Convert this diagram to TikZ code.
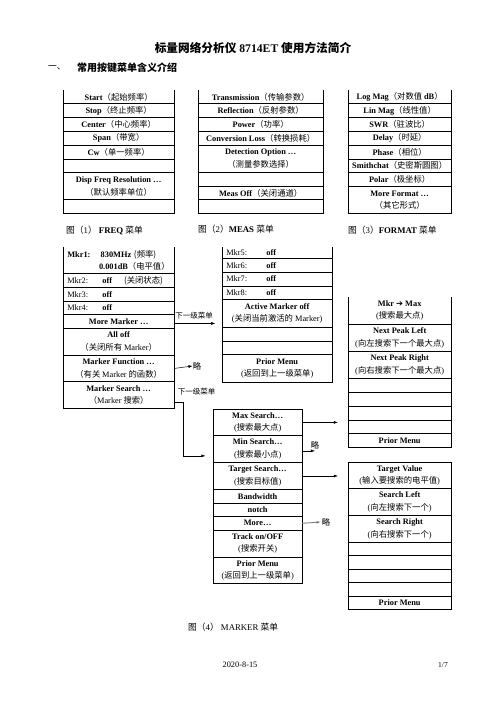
\documentclass[tikz,border=0pt]{standalone}
\usepackage{fontspec}
\setmainfont{Liberation Serif}
\newfontfamily\zhfont{Noto Sans CJK SC}
\newfontfamily\arrowfont{DejaVu Sans}
\newcommand{\zh}[1]{{\zhfont #1}}
\usetikzlibrary{positioning,arrows.meta}

\begin{document}
\begin{tikzpicture}[x=1.2pt,y=-1.2pt,
    cell/.style ={inner sep=0pt, align=center, font=\fontsize{10}{15}\selectfont},
    freqrow/.style={cell, minimum width=133.2pt, minimum height=#1*16.13pt}, freqrow/.default=1,
    measrow/.style={cell, minimum width=150pt, minimum height=#1*16.13pt}, measrow/.default=1,
    fmtrow/.style={cell, minimum width=123.6pt, minimum height=#1*16.13pt}, fmtrow/.default=1,
    mkrrow/.style={cell, minimum width=133.2pt, minimum height=#1*15.9pt}, mkrrow/.default=1,
    mkrbrow/.style={cell, minimum width=132pt, minimum height=#1*16.2pt}, mkrbrow/.default=1,
    peakrow/.style={cell, minimum width=123.6pt, minimum height=#1*16.14pt}, peakrow/.default=1,
    tgtrow/.style={cell, minimum width=123.6pt, minimum height=#1*15.84pt}, tgtrow/.default=1,
    srchrow/.style={cell, minimum width=106.8pt, minimum height=#1*15.88pt}, srchrow/.default=1,
    lft/.style={align=left, text width=#1, inner xsep=5pt},
    note/.style={inner sep=1pt, font=\fontsize{9}{10}\selectfont},
    figcap/.style={inner sep=0pt, anchor=west, font=\fontsize{10.5}{12}\selectfont},
    arr/.style={-{Latex[length=5pt,width=3.5pt]}, line width=0.6pt},
    rule/.style={line width=0.9pt}]
   \useasboundingbox (0,0) rectangle (496,702);

   % heading
   \node[font=\fontsize{14}{16}\selectfont\bfseries] (title) at (253,48) {\zh{标量网络分析仪} 8714ET \zh{使用方法简介}};
   \node[figcap] (sec) at (48,68) {\zh{一、}};
   \node[figcap, font=\fontsize{12}{14}\selectfont\bfseries] (sectxt) at (77,68) {\zh{常用按键菜单含义介绍}};

   % FREQ
   \node[freqrow, anchor=north west] (f1) at (63,90) {\textbf{Start}\zh{（起始频率）}};
   \node[freqrow, below=0pt of f1] (f2) {\textbf{Stop}\zh{（终止频率）}};
   \node[freqrow, below=0pt of f2] (f3) {\textbf{Center}\zh{（中心频率）}};
   \node[freqrow, below=0pt of f3] (f4) {\textbf{Span}\zh{（带宽）}};
   \node[freqrow, below=0pt of f4] (f5) {\textbf{Cw}\zh{（单一频率）}};
   \node[freqrow, below=0pt of f5] (f6) {};
   \node[freqrow=2, below=0pt of f6] (f7) {\textbf{Disp Freq Resolution …}\\\zh{（默认频率单位）}};
   \node[freqrow, below=0pt of f7] (f8) {};
   \node[figcap] (cap1) at (66,230) {\zh{图（}1\zh{）} \textbf{FREQ} \zh{菜单}};

   % MEAS
   \node[measrow, anchor=north west] (m1) at (198,90) {\textbf{Transmission}\zh{（传输参数）}};
   \node[measrow, below=0pt of m1] (m2) {\textbf{Reflection}\zh{（反射参数）}};
   \node[measrow, below=0pt of m2] (m3) {\textbf{Power}\zh{（功率）}};
   \node[measrow, below=0pt of m3] (m4) {\textbf{Conversion Loss}\zh{（转换损耗）}};
   \node[measrow=2, below=0pt of m4] (m5) {\textbf{Detection Option …}\\\zh{（测量参数选择）}};
   \node[measrow, below=0pt of m5] (m6) {};
   \node[measrow, below=0pt of m6] (m7) {\textbf{Meas Off}\zh{（关闭通道）}};
   \node[measrow, below=0pt of m7] (m8) {};
   \node[figcap] (cap2) at (198,229) {\zh{图（}2\zh{）}\textbf{MEAS} \zh{菜单}};

   % FORMAT
   \node[fmtrow, anchor=north west] (g1) at (348,90) {\textbf{Log Mag}\zh{（对数值 }\textbf{dB}\zh{）}};
   \node[fmtrow, below=0pt of g1] (g2) {\textbf{Lin Mag}\zh{（线性值）}};
   \node[fmtrow, below=0pt of g2] (g3) {\textbf{SWR}\zh{（驻波比）}};
   \node[fmtrow, below=0pt of g3] (g4) {\textbf{Delay}\zh{（时延）}};
   \node[fmtrow, below=0pt of g4] (g5) {\textbf{Phase}\zh{（相位）}};
   \node[fmtrow, below=0pt of g5] (g6) {\textbf{Smithchat}\zh{（史密斯圆图）}};
   \node[fmtrow, below=0pt of g6] (g7) {\textbf{Polar}\zh{（极坐标）}};
   \node[fmtrow=2, below=0pt of g7] (g8) {\textbf{More Format …}\\\zh{（其它形式）}};
   \node[figcap] (cap3) at (348,230) {\zh{图（}3\zh{）}\textbf{FORMAT} \zh{菜单}};

   % MARKER
   \node[mkrrow=2, lft=123.2pt, anchor=north west] (a1) at (63,247)
        {\makebox[40pt][l]{\textbf{Mkr1:}}\textbf{830MHz} \zh{(频率)}\\\hspace*{38pt}\textbf{0.001dB}\zh{（电平值）}};
   \node[mkrrow, lft=123.2pt, below=0pt of a1] (a2) {\makebox[42pt][l]{Mkr2:}\makebox[26pt][l]{\textbf{off}}\zh{(关闭状态)}};
   \node[mkrrow, lft=123.2pt, below=0pt of a2] (a3) {\makebox[42pt][l]{Mkr3:}\textbf{off}};
   \node[mkrrow, lft=123.2pt, below=0pt of a3] (a4) {\makebox[42pt][l]{Mkr4:}\textbf{off}};
   \node[mkrrow, below=0pt of a4] (a5) {\textbf{More Marker …}};
   \node[mkrrow=2, below=0pt of a5] (a6) {\textbf{All off}\\\zh{（关闭所有 }Marker\zh{）}};
   \node[mkrrow=2, below=0pt of a6] (a7) {\textbf{Marker Function …}\\\zh{（有关 }Marker\zh{ 的函数）}};
   \node[mkrrow=2, below=0pt of a7] (a8) {\textbf{Marker Search …}\\\zh{（}Marker\zh{ 搜索）}};

   \node[mkrbrow, lft=122pt, minimum height=13.2pt, anchor=north west] (b1) at (222,247) {\makebox[48pt][l]{Mkr5:}\textbf{off}};
   \node[mkrbrow, lft=122pt, below=0pt of b1] (b2) {\makebox[48pt][l]{Mkr6:}\textbf{off}};
   \node[mkrbrow, lft=122pt, below=0pt of b2] (b3) {\makebox[48pt][l]{Mkr7:}\textbf{off}};
   \node[mkrbrow, lft=122pt, below=0pt of b3] (b4) {\makebox[48pt][l]{Mkr8:}\textbf{off}};
   \node[mkrbrow=2, below=0pt of b4] (b5) {\textbf{Active Marker off}\\(\zh{关闭当前激活的} Marker)};
   \node[mkrbrow, below=0pt of b5] (b6) {};
   \node[mkrbrow, below=0pt of b6] (b7) {};
   \node[mkrbrow=2, below=0pt of b7] (b8) {\textbf{Prior Menu}\\(\zh{返回到上一级菜单})};

   \node[peakrow=2, anchor=north west] (p1) at (348,297) {\textbf{Mkr {\arrowfont ➔} Max}\\(\zh{搜索最大点})};
   \node[peakrow=2, below=0pt of p1] (p2) {\textbf{Next Peak Left}\\(\zh{向左搜索下一个最大点})};
   \node[peakrow=2, below=0pt of p2] (p3) {\textbf{Next Peak Right}\\(\zh{向右搜索下一个最大点})};
   \node[peakrow, below=0pt of p3] (p4) {};
   \node[peakrow, below=0pt of p4] (p5) {};
   \node[peakrow, below=0pt of p5] (p6) {};
   \node[peakrow, below=0pt of p6] (p7) {};
   \node[peakrow, below=0pt of p7] (p8) {\textbf{Prior Menu}};

   \node[srchrow=2, anchor=north west] (s1) at (213,409) {\textbf{Max Search…}\\(\zh{搜索最大点})};
   \node[srchrow=2, below=0pt of s1] (s2) {\textbf{Min Search…}\\(\zh{搜索最小点})};
   \node[srchrow=2, below=0pt of s2] (s3) {\textbf{Target Search…}\\(\zh{搜索目标值})};
   \node[srchrow, below=0pt of s3] (s4) {\textbf{Bandwidth}};
   \node[srchrow, below=0pt of s4] (s5) {\textbf{notch}};
   \node[srchrow, below=0pt of s5] (s6) {\textbf{More…}};
   \node[srchrow=2, below=0pt of s6] (s7) {\textbf{Track on/OFF}\\(\zh{搜索开关})};
   \node[srchrow=2, below=0pt of s7] (s8) {\textbf{Prior Menu}\\(\zh{返回到上一级菜单})};

   \node[tgtrow=2, anchor=north west] (t1) at (348,462) {\textbf{Target Value}\\(\zh{输入要搜索的电平值})};
   \node[tgtrow=2, below=0pt of t1] (t2) {\textbf{Search Left}\\(\zh{向左搜索下一个})};
   \node[tgtrow=2, below=0pt of t2] (t3) {\textbf{Search Right}\\(\zh{向右搜索下一个})};
   \node[tgtrow, below=0pt of t3] (t4) {};
   \node[tgtrow, below=0pt of t4] (t5) {};
   \node[tgtrow, below=0pt of t5] (t6) {};
   \node[tgtrow, below=0pt of t6] (t7) {};
   \node[tgtrow, below=0pt of t7] (t8) {\textbf{Prior Menu}};

   \node[figcap] (cap4) at (188,627) {\zh{图（}4\zh{）} MARKER \zh{菜单}};

   % frames and row rules
   \foreach \mn in {f,m,g,a,b,p}
      \draw[rule] (\mn1.north west) -- (\mn8.south west) -- (\mn8.south east) -- (\mn1.north east);
   \foreach \mn in {t,s}
      \draw[rule] (\mn1.north west) rectangle (\mn8.south east);
   \foreach \mn in {f,m,g,a,b,p,t,s}
      \foreach \i in {1,...,7}
         \draw[rule] (\mn\i.south west) -- (\mn\i.south east);

   % links between menus
   \node[note] (n1) at (194,316) {\zh{下一级菜单}};
   \coordinate (q1) at ([yshift=-2.5pt]a5.east);
   \draw[arr, shorten >=8pt] (q1) -- (q1 -| b5.west);

   \node[cell] (l1) at (197,366) {\zh{略}};
   \draw[arr] (a7.east) -- (l1.west);

   \node[note] (n2) at (196.5,392) {\zh{下一级菜单}};
   \draw[arr, shorten >=9pt] ([yshift=-8pt]a8.east) -- ++(9,0) |- ([yshift=-8pt]s2.west);

   \draw[arr, shorten >=12pt] (s1.east) -- (s1.east -| p7.west);
   \node[cell] (l2) at (315,445) {\zh{略}};
   \coordinate (q2) at ([yshift=-2pt]s2.east);
   \draw[arr] (q2) -- (q2 -| l2.center);
   \draw[arr, shorten >=12pt] (s3.east) -- (s3.east -| t1.west);
   \node[cell, inner sep=1pt] (l3) at (326,522) {\zh{略}};
   \draw[arr, gray, line width=1.1pt] (s6.east) -- (l3.west);

   % footer
   \node[note, font=\fontsize{10}{12}\selectfont] (date) at (240,665) {2020-8-15};
   \node[note, font=\fontsize{9}{10}\selectfont] (page) at (443,665) {1/7};
 \end{tikzpicture}
\end{document}
